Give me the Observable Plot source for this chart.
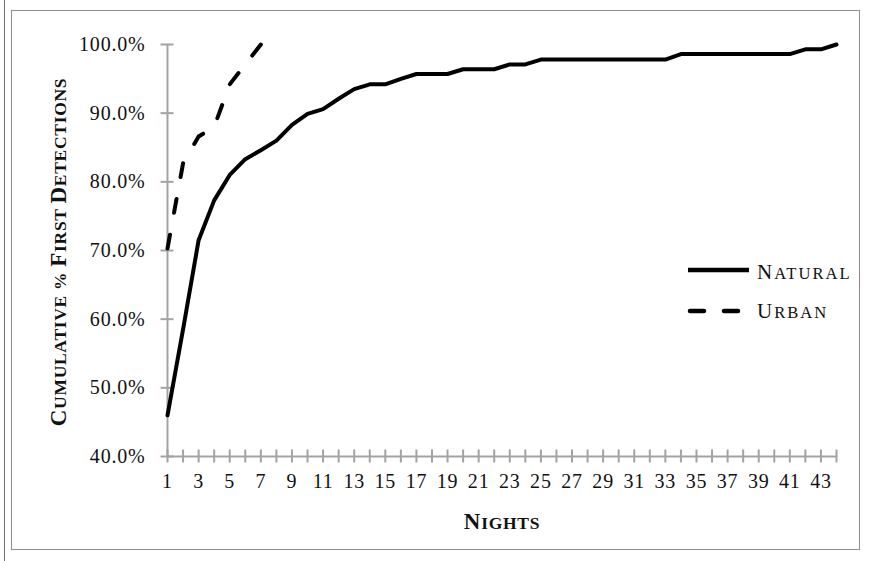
<!DOCTYPE html>
<html>
<head>
<meta charset="utf-8">
<script src="https://cdn.jsdelivr.net/npm/d3@7"></script>
<script src="https://cdn.jsdelivr.net/npm/@observablehq/plot@0.6"></script>
<style>
  html, body { margin: 0; padding: 0; background: #fff; }
  #wrap { position: relative; width: 871px; height: 561px; overflow: hidden; background: #fff; }
  #chart { position: absolute; left: 0; top: 0; }
  #chart svg text { letter-spacing: 0.8px; }
  .frame { position: absolute; left: 11px; top: 10px; width: 849px; height: 540px; border: 1px solid #8c8c8c; box-sizing: border-box; }
  .edge { position: absolute; left: 4px; top: 0; width: 1px; height: 561px; background: #6e6e6e; }
  .sc { position: absolute; white-space: nowrap; line-height: 1; font-family: "Liberation Serif", serif; color: #111; }
  .ytitle { left: 58px; top: 252px; transform: translate(-50%, -50%) rotate(-90deg); font-weight: bold; letter-spacing: 0.7px; }
  .xtitle { left: 502px; top: 521px; transform: translate(-50%, -50%); font-weight: bold; letter-spacing: 0.7px; }
  .big { font-size: 23px; }
  .small { font-size: 17.5px; }
  .leg { left: 757px; transform: translateY(-50%); letter-spacing: 2px; }
  .lbig { font-size: 21px; }
  .lsmall { font-size: 16.6px; }
  #legendLines { position: absolute; left: 0; top: 0; }
</style>
</head>
<body>
<div id="wrap">
  <div class="edge"></div>
  <div class="frame"></div>
  <div id="chart"></div>
  <svg id="legendLines" width="871" height="561"></svg>
  <div class="sc ytitle"><span class="big">C</span><span class="small">UMULATIVE % </span><span class="big">F</span><span class="small">IRST </span><span class="big">D</span><span class="small">ETECTIONS</span></div>
  <div class="sc xtitle"><span class="big">N</span><span class="small">IGHTS</span></div>
  <div class="sc leg" style="top:272px"><span class="lbig">N</span><span class="lsmall">ATURAL</span></div>
  <div class="sc leg" style="top:311px"><span class="lbig">U</span><span class="lsmall">RBAN</span></div>
</div>
<script>
// ---- data ----
const nightsNatural = [1,2,3,4,5,6,7,8,9,10,11,12,13,14,15,16,17,18,19,20,21,22,23,24,25,26,27,28,29,30,31,32,33,34,35,36,37,38,39,40,41,42,43,44];
const natural = [46.0,58.5,71.5,77.3,81.0,83.3,84.6,86.0,88.3,89.9,90.6,92.1,93.5,94.2,94.2,95.0,95.7,95.7,95.7,96.4,96.4,96.4,97.1,97.1,97.8,97.8,97.8,97.8,97.8,97.8,97.8,97.8,97.8,98.6,98.6,98.6,98.6,98.6,98.6,98.6,98.6,99.3,99.3,100.0];
const nightsUrban = [1,2,3,4,5,6,7];
const urban = [70.3,82.7,86.6,88.0,94.2,97.1,100.0];
const yTicks = [40,50,60,70,80,90,100];
const xTickAll = nightsNatural;
const xLabelTicks = [1,3,5,7,9,11,13,15,17,19,21,23,25,27,29,31,33,35,37,39,41,43];

const naturalData = nightsNatural.map((n, i) => ({night: n, pct: natural[i]}));
const urbanData = nightsUrban.map((n, i) => ({night: n, pct: urban[i]}));

const gray = "#a3a3a3";

const chart = Plot.plot({
  width: 871,
  height: 561,
  marginLeft: 167,
  marginRight: 35,
  marginTop: 44,
  marginBottom: 105,
  x: {domain: [1, 44], label: null},
  y: {domain: [40, 100], label: null},
  style: {fontFamily: "'Liberation Serif', serif", fontSize: "20px", color: "#111", background: "transparent", overflow: "visible"},
  marks: [
    Plot.ruleX([1], {stroke: gray, strokeWidth: 2}),
    Plot.ruleY([40], {stroke: gray, strokeWidth: 2}),
    Plot.axisY({ticks: yTicks, tickSize: 13, dx: 6.5, tickFormat: () => "", stroke: gray, strokeWidth: 2, label: null}),
    Plot.axisY({ticks: yTicks, tickSize: 0, tickPadding: 22, tickFormat: d => d.toFixed(1) + "%", fill: "#111", label: null}),
    Plot.axisX({ticks: xTickAll, tickSize: 13, dy: -6.5, tickFormat: () => "", stroke: gray, strokeWidth: 2, label: null}),
    Plot.axisX({ticks: xLabelTicks, tickSize: 0, tickPadding: 17, fill: "#111", label: null}),
    Plot.line(naturalData, {x: "night", y: "pct", stroke: "#000", strokeWidth: 4, strokeLinejoin: "round", strokeLinecap: "round"}),
    Plot.line(urbanData, {x: "night", y: "pct", stroke: "#000", strokeWidth: 4, strokeDasharray: "14,22", strokeLinecap: "round", strokeLinejoin: "round", className: "urban-line"})
  ]
});
document.getElementById("chart").appendChild(chart);

// fit the dash pattern so the urban line starts and ends on a dash (7 dashes)
const up = chart.querySelector(".urban-line path");
if (up && up.getTotalLength) {
  const L = up.getTotalLength();
  const dash = 14;
  const gap = (L - dash) / 6 - dash;
  up.setAttribute("stroke-dasharray", dash + "," + gap.toFixed(2));
}

// legend swatches
const lg = d3.select("#legendLines");
lg.append("line").attr("x1", 688).attr("x2", 749).attr("y1", 270).attr("y2", 270)
  .attr("stroke", "#000").attr("stroke-width", 4.5);
lg.append("line").attr("x1", 690).attr("x2", 742).attr("y1", 311).attr("y2", 311)
  .attr("stroke", "#000").attr("stroke-width", 4.5).attr("stroke-dasharray", "14,20").attr("stroke-linecap", "round");
</script>
</body>
</html>
